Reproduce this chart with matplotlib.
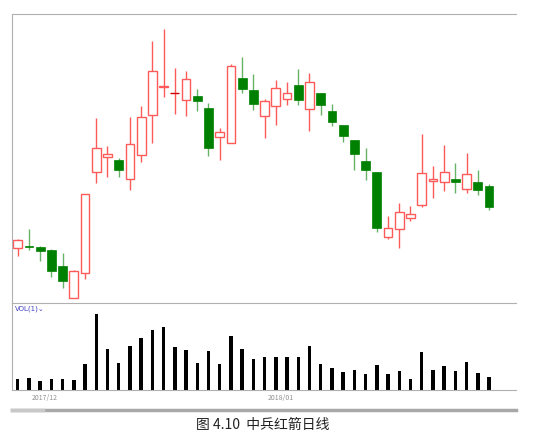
import numpy as np
import matplotlib.pyplot as plt

plt.rcParams['font.family'] = ['Noto Sans CJK SC', 'DejaVu Sans']

opens = [6.17, 6.43, 6.33, 6.0, 4.37, 1.17, 3.67, 13.77, 15.27, 15.0, 13.07, 15.47, 19.47, 22.33, 21.67,
         20.97, 21.43, 20.2, 17.27, 16.67, 23.23, 21.97, 19.37, 20.37, 21.13, 22.53, 20.13, 21.67, 19.9,
         18.47, 16.97, 14.9, 13.77, 7.27, 8.1, 9.17, 10.47, 12.93, 12.77, 13.07, 12.1, 12.77, 12.4]
closes = [7.0, 6.27, 5.87, 3.9, 2.93, 3.9, 11.57, 16.17, 15.6, 14.0, 16.57, 19.27, 23.9, 22.43, 21.67,
          23.07, 20.93, 16.23, 17.77, 24.37, 22.07, 20.57, 20.87, 22.2, 21.67, 20.97, 22.8, 20.53, 18.77,
          17.37, 15.57, 14.0, 8.2, 8.23, 9.77, 9.57, 13.73, 13.1, 13.77, 12.77, 13.63, 11.97, 10.3]
highs = [7.1, 8.07, 6.43, 6.1, 5.67, 4.0, 11.57, 19.17, 16.43, 15.17, 19.33, 20.4, 26.93, 28.07, 24.17,
         23.9, 22.1, 20.7, 18.2, 24.6, 25.27, 23.6, 21.1, 23.0, 22.8, 24.1, 23.73, 21.67, 20.6,
         18.47, 16.97, 16.17, 13.77, 9.4, 10.73, 10.43, 17.6, 14.4, 16.47, 14.67, 15.7, 14.03, 12.6]
lows = [5.4, 6.0, 4.9, 3.33, 2.23, 1.17, 3.07, 12.67, 13.33, 13.33, 12.0, 14.83, 16.67, 21.33, 19.6,
        19.43, 19.87, 15.4, 15.0, 16.67, 21.67, 20.0, 17.2, 18.47, 20.5, 20.5, 17.93, 19.53, 18.43,
        16.83, 13.97, 13.03, 7.83, 7.13, 6.23, 8.87, 10.27, 11.23, 11.9, 11.67, 11.7, 11.53, 10.0]
volumes = [33, 36, 27, 31, 33, 30, 78, 226, 122, 80, 131, 154, 179, 188, 127, 119, 80, 117, 77, 162, 122,
           93, 99, 99, 97, 99, 132, 77, 66, 54, 60, 47, 73, 47, 57, 33, 114, 60, 72, 57, 82, 50, 38]
date_labels = ['2017/12', '2018/01']
date_pos = [2.4, 23.4]

RED = '#ff5a5a'
GREEN = '#008000'

fig = plt.figure(figsize=(5.6, 4.43), dpi=100)
ax = fig.add_axes([0.0214, 0.316, 0.9, 0.652])
axv = fig.add_axes([0.0214, 0.12, 0.9, 0.196])

for i in range(len(opens)):
    o, c, h, l = opens[i], closes[i], highs[i], lows[i]
    top, bot = max(o, c), min(o, c)
    if c > o or (c == o and i > 0 and c >= closes[i - 1]):
        ax.vlines(i, top, h, color=RED, lw=1)
        ax.vlines(i, l, bot, color=RED, lw=1)
        ax.bar(i, max(top - bot, 0.1), bottom=bot, width=0.78, facecolor='white', edgecolor=RED, lw=1)
    elif c == o:
        ax.vlines(i, l, h, color=RED, lw=1)
        ax.hlines(c, i - 0.39, i + 0.39, color='#cc0000', lw=1)
    else:
        ax.vlines(i, l, h, color=GREEN, lw=1, alpha=0.6)
        ax.bar(i, max(top - bot, 0.1), bottom=bot, width=0.78, facecolor=GREEN, edgecolor=GREEN, lw=0.5)

x = np.arange(len(volumes))
axv.bar(x, volumes, width=0.3, color='black')

for a in (ax, axv):
    a.set_xlim(-0.51, 44.4)
    a.set_xticks([])
    a.set_yticks([])
    for s in a.spines.values():
        s.set_color('#b0b0b0')
    a.spines['right'].set_visible(False)
ax.set_ylim(0.7, 29.6)
axv.set_ylim(0, 260)
ax.spines['bottom'].set_visible(False)

axv.text(0.005, 0.97, 'VOL(1)⌄', transform=axv.transAxes, fontsize=5, color='#4040c0',
         va='top', ha='left', family=['DejaVu Sans'])
for lab, p in zip(date_labels, date_pos):
    axv.text(p, -12, lab, fontsize=5, color='#909090', ha='center', va='top')

fig.add_artist(plt.Line2D([0.0214, 0.9214], [0.074, 0.074], color='#a8a8a8', lw=2.5))
fig.add_artist(plt.Line2D([0.0214, 0.077], [0.074, 0.074], color='#c8c8c8', lw=2.5))

fig.text(0.47, 0.04, '图 4.10  中兵红箭日线', ha='center', va='center', fontsize=10, color='#222222')

fig.savefig('out.png', dpi=100)
